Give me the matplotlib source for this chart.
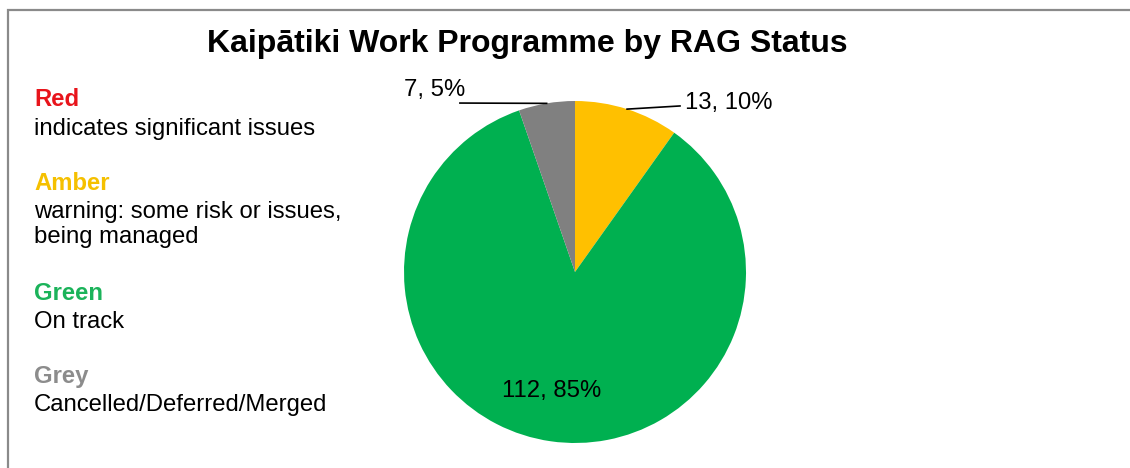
import matplotlib.pyplot as plt
import numpy as np
from matplotlib.patches import Rectangle

plt.rcParams['font.family'] = ['Liberation Sans', 'DejaVu Sans']

statuses = ['Amber', 'Green', 'Grey']
counts = [13, 112, 7]
colors = ['#FFC000', '#00B050', '#808080']

legend_names = ['Red', 'Amber', 'Green', 'Grey']
legend_colors = ['#E8141B', '#F5C000', '#1BB35A', '#8C8C8C']
legend_desc = ['indicates significant issues',
               'warning: some risk or issues,\nbeing managed',
               'On track',
               'Cancelled/Deferred/Merged']

W, H = 1130, 468
fs = 17.2
fig = plt.figure(figsize=(W / 100, H / 100), dpi=100)

# outer frame
fig.patches.append(Rectangle((8 / W, -0.1), 1.2, 1 - 10 / H + 0.1, transform=fig.transFigure,
                             fill=False, edgecolor='#8a8a8a', linewidth=1.6))

fig.text(527 / W, 1 - 44 / H, 'Kaipātiki Work Programme by RAG Status',
         ha='center', va='center', fontsize=23, fontweight='bold')

# legend text block (pixel rows of each heading)
name_rows = [100, 183, 293, 376]
for name, col, desc, yy in zip(legend_names, legend_colors, legend_desc, name_rows):
    fig.text(34 / W, 1 - yy / H, name, color=col, fontsize=fs, fontweight='bold',
             va='center', ha='left')
    fig.text(34 / W, 1 - (yy + 18) / H, desc, color='black', fontsize=fs,
             va='top', ha='left', linespacing=1.15)

# pie
cx, cy, r = 575, 272, 171
ax = fig.add_axes([(cx - r) / W, (H - cy - r) / H, 2 * r / W, 2 * r / H])
wedges, _ = ax.pie(counts, colors=colors, startangle=90, counterclock=False,
                   radius=1, wedgeprops=dict(linewidth=0))
ax.set_xlim(-1, 1)
ax.set_ylim(-1, 1)
ax.set_aspect('equal')
ax.axis('off')

total = sum(counts)
labels = [f'{c}, {round(100 * c / total)}%' for c in counts]

def edge_point(w):
    ang = np.deg2rad((w.theta1 + w.theta2) / 2)
    return np.cos(ang), np.sin(ang)

# amber label
px, py = edge_point(wedges[0])
ax.plot([px, 0.614], [py, 0.971], color='black', lw=1.2, clip_on=False)
ax.text(0.643, 0.99, labels[0], fontsize=fs, ha='left', va='center')
# grey label
px, py = edge_point(wedges[2])
ax.plot([px, -0.673], [py, 0.988], color='black', lw=1.2, clip_on=False)
ax.text(-0.643, 1.066, labels[2], fontsize=fs, ha='right', va='center')
# green label
ax.text(-0.135, -0.695, labels[1], fontsize=fs, ha='center', va='center')

fig.savefig('out.png', dpi=100)
